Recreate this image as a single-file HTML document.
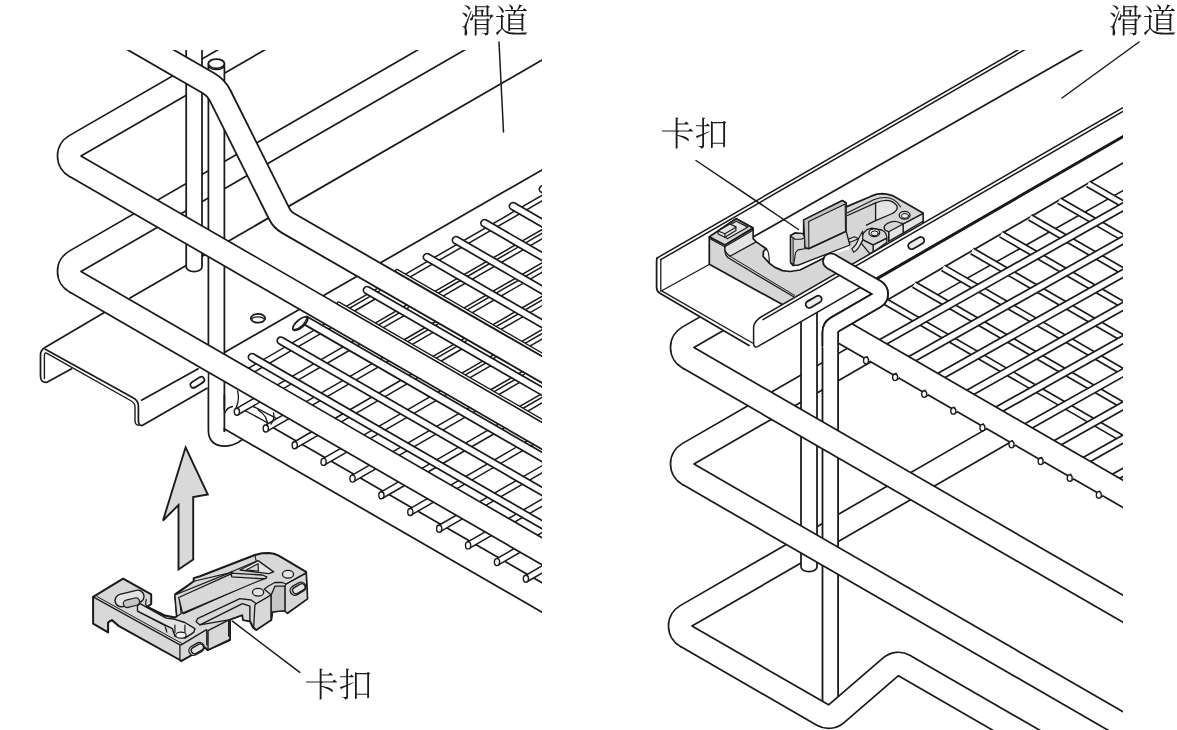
<!DOCTYPE html>
<html><head><meta charset="utf-8"><style>
html,body{margin:0;padding:0;background:#fff;}
body{width:1177px;height:730px;overflow:hidden;}
svg{display:block;}
.l{stroke:#1a1a1a;stroke-linecap:round;stroke-linejoin:round;}

text{font-family:"Liberation Serif","Noto Serif CJK SC",serif;font-size:34px;fill:#1a1a1a;font-weight:300;text-rendering:geometricPrecision;}
</style></head><body>
<svg width="1177" height="730" viewBox="0 0 1177 730">
<defs><clipPath id="cl"><rect x="0" y="50" width="542" height="680"/></clipPath>
<clipPath id="cr"><rect x="600" y="50" width="523" height="680"/></clipPath></defs>
<g clip-path="url(#cl)">
<path d="M560 49.6L130 298" class="l" fill="none" stroke-width="1.75" />
<path d="M560 159.6L224.4 352.5" class="l" fill="none" stroke-width="1.75" />
<ellipse cx="258" cy="318.3" rx="7.2" ry="4.4" class="l" stroke-width="1.75" fill="#fff"/>
<path d="M251.5 319.8A6.6 3.6 0 0 1 264.5 319.8" class="l" stroke-width="1.2" fill="none" />
<path d="M490.8 21.3L75.1 261.3A11.8 11.8 0 0 0 75.1 281.7L76.9 282.7" fill="none" stroke="#1a1a1a" stroke-width="25.2" stroke-linecap="butt" stroke-linejoin="round"/>
<path d="M490.8 21.3L75.1 261.3A11.8 11.8 0 0 0 75.1 281.7L76.9 282.7" fill="none" stroke="#fff" stroke-width="21.8" stroke-linecap="butt" stroke-linejoin="round"/>
<path d="M300.3 15.8L75.1 145.8A11.8 11.8 0 0 0 75.1 166.2L76.9 167.2" fill="none" stroke="#1a1a1a" stroke-width="25.2" stroke-linecap="butt" stroke-linejoin="round"/>
<path d="M300.3 15.8L75.1 145.8A11.8 11.8 0 0 0 75.1 166.2L76.9 167.2" fill="none" stroke="#fff" stroke-width="21.8" stroke-linecap="butt" stroke-linejoin="round"/>
<path d="M405.5 274.1L578.7 174.1" class="l" fill="none" stroke-width="1.5" />
<path d="M405.5 279.7L578.7 179.7" class="l" fill="none" stroke-width="1.5" />
<path d="M434.4 291.7L607.6 191.7" class="l" fill="none" stroke-width="1.5" />
<path d="M434.4 295.5L607.6 195.5" class="l" fill="none" stroke-width="1.5" />
<path d="M434.4 301.1L607.6 201.1" class="l" fill="none" stroke-width="1.5" />
<path d="M463.3 308.4L636.5 208.4" class="l" fill="none" stroke-width="1.5" />
<path d="M463.3 312.2L636.5 212.2" class="l" fill="none" stroke-width="1.5" />
<path d="M463.3 317.8L636.5 217.8" class="l" fill="none" stroke-width="1.5" />
<path d="M492.2 325.1L665.4 225.1" class="l" fill="none" stroke-width="1.5" />
<path d="M492.2 328.9L665.4 228.9" class="l" fill="none" stroke-width="1.5" />
<path d="M492.2 334.5L665.4 234.5" class="l" fill="none" stroke-width="1.5" />
<path d="M521.1 341.8L694.3 241.8" class="l" fill="none" stroke-width="1.5" />
<path d="M521.1 345.6L694.3 245.6" class="l" fill="none" stroke-width="1.5" />
<path d="M521.1 351.2L694.3 251.2" class="l" fill="none" stroke-width="1.5" />
<path d="M550 358.4L723.2 258.4" class="l" fill="none" stroke-width="1.5" />
<path d="M550 362.2L723.2 262.2" class="l" fill="none" stroke-width="1.5" />
<path d="M550 367.8L723.2 267.8" class="l" fill="none" stroke-width="1.5" />
<path d="M427 257.2L600.2 357.2" fill="none" stroke="#1a1a1a" stroke-width="8.9" stroke-linecap="round" stroke-linejoin="round"/>
<path d="M427 257.2L600.2 357.2" fill="none" stroke="#fff" stroke-width="5.5" stroke-linecap="round" stroke-linejoin="round"/>
<path d="M456 240.2L629.2 340.2" fill="none" stroke="#1a1a1a" stroke-width="8.9" stroke-linecap="round" stroke-linejoin="round"/>
<path d="M456 240.2L629.2 340.2" fill="none" stroke="#fff" stroke-width="5.5" stroke-linecap="round" stroke-linejoin="round"/>
<path d="M484.5 223.2L657.7 323.2" fill="none" stroke="#1a1a1a" stroke-width="8.9" stroke-linecap="round" stroke-linejoin="round"/>
<path d="M484.5 223.2L657.7 323.2" fill="none" stroke="#fff" stroke-width="5.5" stroke-linecap="round" stroke-linejoin="round"/>
<path d="M513 206.2L686.2 306.2" fill="none" stroke="#1a1a1a" stroke-width="8.9" stroke-linecap="round" stroke-linejoin="round"/>
<path d="M513 206.2L686.2 306.2" fill="none" stroke="#fff" stroke-width="5.5" stroke-linecap="round" stroke-linejoin="round"/>
<path d="M543 189.2L716.2 289.2" fill="none" stroke="#1a1a1a" stroke-width="8.9" stroke-linecap="round" stroke-linejoin="round"/>
<path d="M543 189.2L716.2 289.2" fill="none" stroke="#fff" stroke-width="5.5" stroke-linecap="round" stroke-linejoin="round"/>
<path d="M186.2 40V267A7.9 4.5 0 0 0 202 267V40" fill="#fff" class="l" stroke-width="1.75"/>
<path d="M208.4 63.7V430C208.4 440 214 446 225 446.2C232 446 238 443 242.5 439.4L225 429.3H224.4V63.7Z" fill="#fff" stroke="none"/>
<path d="M208.4 63.7V430C208.4 440 214 446 225 446.2C232 446 238 443 242.5 439.4M224.4 431V63.7" fill="none" class="l" stroke-width="1.75"/>
<ellipse cx="216.4" cy="63.7" rx="8" ry="4.7" fill="#fff" class="l" stroke-width="1.75"/>
<path d="M208.6 66A8 4.7 0 0 0 224.2 66" class="l" stroke-width="1.3" fill="none" />
<path d="M345 307.1L379.6 287.1" class="l" fill="none" stroke-width="1.5" />
<path d="M345 310.9L379.6 290.9" class="l" fill="none" stroke-width="1.5" />
<path d="M345 316.5L379.6 296.5" class="l" fill="none" stroke-width="1.5" />
<path d="M373.9 323.8L408.5 303.8" class="l" fill="none" stroke-width="1.5" />
<path d="M373.9 327.6L408.5 307.6" class="l" fill="none" stroke-width="1.5" />
<path d="M373.9 333.2L408.5 313.2" class="l" fill="none" stroke-width="1.5" />
<path d="M402.8 340.5L437.4 320.5" class="l" fill="none" stroke-width="1.5" />
<path d="M402.8 344.3L437.4 324.3" class="l" fill="none" stroke-width="1.5" />
<path d="M402.8 349.9L437.4 329.9" class="l" fill="none" stroke-width="1.5" />
<path d="M431.7 357.1L466.3 337.1" class="l" fill="none" stroke-width="1.5" />
<path d="M431.7 360.9L466.3 340.9" class="l" fill="none" stroke-width="1.5" />
<path d="M431.7 366.5L466.3 346.5" class="l" fill="none" stroke-width="1.5" />
<path d="M460.6 373.8L495.2 353.8" class="l" fill="none" stroke-width="1.5" />
<path d="M460.6 377.6L495.2 357.6" class="l" fill="none" stroke-width="1.5" />
<path d="M460.6 383.2L495.2 363.2" class="l" fill="none" stroke-width="1.5" />
<path d="M489.5 390.5L524.1 370.5" class="l" fill="none" stroke-width="1.5" />
<path d="M489.5 394.3L524.1 374.3" class="l" fill="none" stroke-width="1.5" />
<path d="M489.5 399.9L524.1 379.9" class="l" fill="none" stroke-width="1.5" />
<path d="M518.4 407.2L553 387.2" class="l" fill="none" stroke-width="1.5" />
<path d="M518.4 411L553 391" class="l" fill="none" stroke-width="1.5" />
<path d="M518.4 416.6L553 396.6" class="l" fill="none" stroke-width="1.5" />
<path d="M547.3 423.8L581.9 403.8" class="l" fill="none" stroke-width="1.5" />
<path d="M547.3 427.6L581.9 407.6" class="l" fill="none" stroke-width="1.5" />
<path d="M547.3 433.2L581.9 413.2" class="l" fill="none" stroke-width="1.5" />
<path d="M367 290.2L566.2 405.2" fill="none" stroke="#1a1a1a" stroke-width="8.9" stroke-linecap="round" stroke-linejoin="round"/>
<path d="M367 290.2L566.2 405.2" fill="none" stroke="#fff" stroke-width="5.5" stroke-linecap="round" stroke-linejoin="round"/>
<path d="M100 20.6L208.6 83.2A29 29 0 0 1 220.1 95.4L279.4 214.1A21 21 0 0 0 287.7 222.9L580 391.5" fill="none" stroke="#1a1a1a" stroke-width="24.8" stroke-linecap="butt" stroke-linejoin="round"/>
<path d="M100 20.6L208.6 83.2A29 29 0 0 1 220.1 95.4L279.4 214.1A21 21 0 0 0 287.7 222.9L580 391.5" fill="none" stroke="#fff" stroke-width="21.2" stroke-linecap="butt" stroke-linejoin="round"/>
<path d="M397 270.7L570.2 370.7" fill="none" stroke="#1a1a1a" stroke-width="3.9" stroke-linecap="round" stroke-linejoin="round"/>
<path d="M397 270.7L570.2 370.7" fill="none" stroke="#fff" stroke-width="1.3" stroke-linecap="round" stroke-linejoin="round"/>
<path d="M222 412.8L585.7 622.8" stroke="#fff" stroke-width="24" fill="none"/>
<path d="M225 429.3L560 622.6" class="l" fill="none" stroke-width="1.75" />
<path d="M272 427L560 593.2" class="l" fill="none" stroke-width="1.75" />
<path d="M244 410L268 423" class="l" fill="none" stroke-width="1.4" />
<path d="M252 405.8L276 418.2" class="l" fill="none" stroke-width="1.4" />
<path d="M232 381.3L329.2 325.1" fill="none" stroke="#1a1a1a" stroke-width="7.7" stroke-linecap="butt" stroke-linejoin="round"/>
<path d="M232 381.3L329.2 325.1" fill="none" stroke="#fff" stroke-width="4.7" stroke-linecap="butt" stroke-linejoin="round"/>
<path d="M236.9 411.8L358.1 341.8" fill="none" stroke="#1a1a1a" stroke-width="7.7" stroke-linecap="butt" stroke-linejoin="round"/>
<path d="M236.9 411.8L358.1 341.8" fill="none" stroke="#fff" stroke-width="4.7" stroke-linecap="butt" stroke-linejoin="round"/>
<ellipse cx="236.9" cy="411.8" rx="2.6" ry="3.5" fill="#fff" class="l" stroke-width="1.4"/>
<path d="M265.8 428.5L387 358.5" fill="none" stroke="#1a1a1a" stroke-width="7.7" stroke-linecap="butt" stroke-linejoin="round"/>
<path d="M265.8 428.5L387 358.5" fill="none" stroke="#fff" stroke-width="4.7" stroke-linecap="butt" stroke-linejoin="round"/>
<ellipse cx="265.8" cy="428.5" rx="2.6" ry="3.5" fill="#fff" class="l" stroke-width="1.4"/>
<path d="M294.7 445.2L415.9 375.2" fill="none" stroke="#1a1a1a" stroke-width="7.7" stroke-linecap="butt" stroke-linejoin="round"/>
<path d="M294.7 445.2L415.9 375.2" fill="none" stroke="#fff" stroke-width="4.7" stroke-linecap="butt" stroke-linejoin="round"/>
<ellipse cx="294.7" cy="445.2" rx="2.6" ry="3.5" fill="#fff" class="l" stroke-width="1.4"/>
<path d="M323.6 461.9L444.8 391.9" fill="none" stroke="#1a1a1a" stroke-width="7.7" stroke-linecap="butt" stroke-linejoin="round"/>
<path d="M323.6 461.9L444.8 391.9" fill="none" stroke="#fff" stroke-width="4.7" stroke-linecap="butt" stroke-linejoin="round"/>
<ellipse cx="323.6" cy="461.9" rx="2.6" ry="3.5" fill="#fff" class="l" stroke-width="1.4"/>
<path d="M352.5 478.6L473.7 408.6" fill="none" stroke="#1a1a1a" stroke-width="7.7" stroke-linecap="butt" stroke-linejoin="round"/>
<path d="M352.5 478.6L473.7 408.6" fill="none" stroke="#fff" stroke-width="4.7" stroke-linecap="butt" stroke-linejoin="round"/>
<ellipse cx="352.5" cy="478.6" rx="2.6" ry="3.5" fill="#fff" class="l" stroke-width="1.4"/>
<path d="M381.4 495.3L502.6 425.3" fill="none" stroke="#1a1a1a" stroke-width="7.7" stroke-linecap="butt" stroke-linejoin="round"/>
<path d="M381.4 495.3L502.6 425.3" fill="none" stroke="#fff" stroke-width="4.7" stroke-linecap="butt" stroke-linejoin="round"/>
<ellipse cx="381.4" cy="495.3" rx="2.6" ry="3.5" fill="#fff" class="l" stroke-width="1.4"/>
<path d="M410.3 512L531.5 442" fill="none" stroke="#1a1a1a" stroke-width="7.7" stroke-linecap="butt" stroke-linejoin="round"/>
<path d="M410.3 512L531.5 442" fill="none" stroke="#fff" stroke-width="4.7" stroke-linecap="butt" stroke-linejoin="round"/>
<ellipse cx="410.3" cy="512" rx="2.6" ry="3.5" fill="#fff" class="l" stroke-width="1.4"/>
<path d="M439.2 528.7L560.4 458.7" fill="none" stroke="#1a1a1a" stroke-width="7.7" stroke-linecap="butt" stroke-linejoin="round"/>
<path d="M439.2 528.7L560.4 458.7" fill="none" stroke="#fff" stroke-width="4.7" stroke-linecap="butt" stroke-linejoin="round"/>
<ellipse cx="439.2" cy="528.7" rx="2.6" ry="3.5" fill="#fff" class="l" stroke-width="1.4"/>
<path d="M468.1 545.4L589.3 475.4" fill="none" stroke="#1a1a1a" stroke-width="7.7" stroke-linecap="butt" stroke-linejoin="round"/>
<path d="M468.1 545.4L589.3 475.4" fill="none" stroke="#fff" stroke-width="4.7" stroke-linecap="butt" stroke-linejoin="round"/>
<ellipse cx="468.1" cy="545.4" rx="2.6" ry="3.5" fill="#fff" class="l" stroke-width="1.4"/>
<path d="M497 562.1L618.2 492.1" fill="none" stroke="#1a1a1a" stroke-width="7.7" stroke-linecap="butt" stroke-linejoin="round"/>
<path d="M497 562.1L618.2 492.1" fill="none" stroke="#fff" stroke-width="4.7" stroke-linecap="butt" stroke-linejoin="round"/>
<ellipse cx="497" cy="562.1" rx="2.6" ry="3.5" fill="#fff" class="l" stroke-width="1.4"/>
<path d="M525.9 578.8L647.1 508.8" fill="none" stroke="#1a1a1a" stroke-width="7.7" stroke-linecap="butt" stroke-linejoin="round"/>
<path d="M525.9 578.8L647.1 508.8" fill="none" stroke="#fff" stroke-width="4.7" stroke-linecap="butt" stroke-linejoin="round"/>
<ellipse cx="525.9" cy="578.8" rx="2.6" ry="3.5" fill="#fff" class="l" stroke-width="1.4"/>
<path d="M554.8 595.5L676 525.5" fill="none" stroke="#1a1a1a" stroke-width="7.7" stroke-linecap="butt" stroke-linejoin="round"/>
<path d="M554.8 595.5L676 525.5" fill="none" stroke="#fff" stroke-width="4.7" stroke-linecap="butt" stroke-linejoin="round"/>
<ellipse cx="554.8" cy="595.5" rx="2.6" ry="3.5" fill="#fff" class="l" stroke-width="1.4"/>
<path d="M224.4 395L224.4 431" class="l" fill="none" stroke-width="1.75" />
<path d="M224.4 414Q226 408 232.5 406.5" class="l" stroke-width="1.3" fill="none" />
<path d="M237.5 391Q240 399 236 408" class="l" stroke-width="1.3" fill="none" />
<path d="M258 410Q268 416 267.5 426" class="l" stroke-width="1.3" fill="none" />
<path d="M273.5 413Q275 419 271 424" class="l" stroke-width="1.3" fill="none" />
<path d="M252 357.2L563.8 537.2" fill="none" stroke="#1a1a1a" stroke-width="8.9" stroke-linecap="round" stroke-linejoin="round"/>
<path d="M252 357.2L563.8 537.2" fill="none" stroke="#fff" stroke-width="5.5" stroke-linecap="round" stroke-linejoin="round"/>
<path d="M280.8 340.6L592.6 520.6" fill="none" stroke="#1a1a1a" stroke-width="8.9" stroke-linecap="round" stroke-linejoin="round"/>
<path d="M280.8 340.6L592.6 520.6" fill="none" stroke="#fff" stroke-width="5.5" stroke-linecap="round" stroke-linejoin="round"/>
<path d="M304 319.6L563.8 469.6" fill="none" stroke="#1a1a1a" stroke-width="9.9" stroke-linecap="butt" stroke-linejoin="round"/>
<path d="M304 319.6L563.8 469.6" fill="none" stroke="#fff" stroke-width="6.4" stroke-linecap="butt" stroke-linejoin="round"/>
<ellipse cx="300.3" cy="323.6" rx="9.4" ry="3.8" transform="rotate(-41 300.3 323.6)" fill="#fff" class="l" stroke-width="1.75"/>
<path d="M294 329.6Q303.5 327.5 306.6 318.6" class="l" stroke-width="1.3" fill="none" />
<path d="M103.9 312.7L41 349L40.5 378L46.5 382.4L71.6 368.8L60 361L132 400L138.4 406V424L142.2 425.5L207.5 388V352Z" fill="#fff"/>
<path d="M103.9 312.7L45 347.4Q40.5 350 40.5 354.5V376Q40.5 382.8 46.5 382.4L71.6 368.8" class="l" stroke-width="1.75" fill="none" />
<path d="M45.3 349.3L132.6 397.5Q138.4 400.5 138.4 406V421Q138.6 425.8 142.2 425.5L207 388.2" class="l" stroke-width="1.75" fill="none" />
<path d="M44.4 378.5V355.5Q44.4 352 47 353.3L130.5 400.5Q135 403 135 406.7V421Q135 424.5 138.5 425.3" class="l" stroke-width="1.4" fill="none" />
<path d="M141.5 400.2L198.2 368.8" class="l" fill="none" stroke-width="1.75" />
<path d="M193.5 384.9L201.3 379.9" fill="none" stroke="#1a1a1a" stroke-width="7.8" stroke-linecap="round" stroke-linejoin="round"/>
<path d="M193.5 384.9L201.3 379.9" fill="none" stroke="#fff" stroke-width="4.6" stroke-linecap="round" stroke-linejoin="round"/>
<path d="M191.5 387.6Q198 387 203.5 381" class="l" stroke-width="1.1" fill="none" />
<path d="M75.1 166.2L560.1 446.2" fill="none" stroke="#1a1a1a" stroke-width="25.2" stroke-linecap="butt" stroke-linejoin="round"/>
<path d="M73.8 165.4L560.1 446.2" fill="none" stroke="#fff" stroke-width="21.8" stroke-linecap="butt" stroke-linejoin="round"/>
<path d="M338.6 303.3L563.8 433.3" fill="none" stroke="#1a1a1a" stroke-width="3.9" stroke-linecap="round" stroke-linejoin="round"/>
<path d="M338.6 303.3L563.8 433.3" fill="none" stroke="#fff" stroke-width="1.3" stroke-linecap="round" stroke-linejoin="round"/>
<path d="M75.1 281.7L560.1 561.7" fill="none" stroke="#1a1a1a" stroke-width="25.2" stroke-linecap="butt" stroke-linejoin="round"/>
<path d="M73.8 280.9L560.1 561.7" fill="none" stroke="#fff" stroke-width="21.8" stroke-linecap="butt" stroke-linejoin="round"/>
</g>
<path d="M185.6 447.3L207.8 494.5L193.2 497V559.5L178.5 569.5V505L163 520.5Z" fill="#d9d9d9" class="l" stroke-width="1.9" style="stroke-linejoin:miter"/>
<path d="M93.1 596.9L123.1 578.7L151.2 594.4L151.2 604L147.4 606.8L165 615.6L175 617.5L176.8 616.2L175 595L193.7 581.2L193.7 578.1L200 576.2L254.9 555L262 553.3L268.7 553.1L274 553.8L278.7 555.6L306.1 571.9L307.4 598.7L287.4 613.1L284.9 610.6L272.4 611.8L271.2 620L256.2 630L253 627.5L250 621.2L243 620L242.4 615L230 619.5L230 640L207.5 650L205 647.5L181.2 661.2L179.9 660L118.1 625.6L111.9 620L108.1 622.5L108.1 632.4L93.1 623.7Z" fill="#d8d8d8" class="l" stroke-width="2.0"/>
<path d="M93.1 596.9L179.9 644.9L181.2 644.9L206.1 629.9" fill="none" class="l" stroke-width="1.3"/>
<path d="M96.9 596.5L181.8 643.4" fill="none" class="l" stroke-width="1.0"/>
<path d="M179.9 645.6L179.9 659.9" class="l" fill="none" stroke-width="1.3" />
<path d="M121.3 600.5L137.8 596.4" stroke="#1a1a1a" stroke-width="13.9" stroke-linecap="round" fill="none"/>
<path d="M121.3 600.5L137.8 596.4" stroke="#e3e3e3" stroke-width="11.1" stroke-linecap="round" fill="none"/>
<path d="M127.1 603.8L135.8 601.6" stroke="#1a1a1a" stroke-width="8.7" stroke-linecap="round" fill="none"/>
<path d="M127.1 603.8L135.8 601.6" stroke="#c6c6c6" stroke-width="6.3" stroke-linecap="round" fill="none"/>
<path d="M137.5 605.6L140 603.7L166.2 618.1L174.9 619.3L184.9 622.5L194.9 628.7L193.7 632.4L184.9 638.1L174.9 636.2L172.4 628.7L164.9 625L137.5 611.2Z" fill="#e3e3e3" class="l" stroke-width="1.4"/>
<path d="M137.5 611.2L164.9 625.6L166.8 632.4L166.2 628.7" fill="none" class="l" stroke-width="1.0"/>
<ellipse cx="180.9" cy="635.2" rx="5.2" ry="3" fill="#fff" class="l" stroke-width="1.2"/>
<path d="M174.9 625L174.9 632.4" class="l" fill="none" stroke-width="1.2" />
<path d="M184.9 625L184.9 632.4" class="l" fill="none" stroke-width="1.2" />
<path d="M146.2 599.3L145.6 604.3L147.4 606.8L164.9 615.6L174.9 617.5" fill="none" class="l" stroke-width="1.2"/>
<path d="M108.1 632.4L108.1 623.1L110 620.6L113.1 621.2L118.1 625.2" fill="none" class="l" stroke-width="1.3"/>
<path d="M193.6 650.6L199.5 647.2" stroke="#1a1a1a" stroke-width="10.8" stroke-linecap="round" fill="none"/>
<path d="M193.6 650.6L199.5 647.2" stroke="#c6c6c6" stroke-width="8.2" stroke-linecap="round" fill="none"/>
<path d="M194.6 650.5L200.2 647.3" stroke="#1a1a1a" stroke-width="7.8" stroke-linecap="round" fill="none"/>
<path d="M194.6 650.5L200.2 647.3" stroke="#e3e3e3" stroke-width="5.2" stroke-linecap="round" fill="none"/>
<path d="M208 630.6L229.9 619.3L229.9 639.3L208 649.9Z" fill="#d8d8d8" class="l" stroke-width="1.4"/>
<path d="M206.8 629.9L206.8 644.9" class="l" fill="none" stroke-width="1.4" />
<path d="M174.9 595L232 571.9L232 580L179.9 601.2L181.2 613.7L176.8 616.2Z" fill="#d8d8d8" class="l" stroke-width="1.3"/>
<path d="M180.5 601.8L232 580.6L232 591.9L183.7 613.7Z" fill="#d8d8d8" class="l" stroke-width="1.3"/>
<path d="M175 593.7L193.7 581.2L228.7 573.1L256.2 561.2L254.9 555" fill="none" class="l" stroke-width="1.1"/>
<path d="M178.7 597.5L230 574.3L262.4 576.2L266.2 578.1L254.9 582.5L182.5 613.1Z" fill="#d8d8d8" class="l" stroke-width="1.3"/>
<path d="M231.2 573.1L262.4 575L266.8 576.8L265.5 578.7L261.2 578.7L231.8 576.8Z" fill="#d8d8d8" class="l" stroke-width="1.3"/>
<path d="M239.9 570L258.1 560.6L273.7 571.9L268.7 573.7Z" fill="#e3e3e3" class="l" stroke-width="1.3"/>
<path d="M246.2 570L258.1 563.7L258.4 571.2Z" fill="#d8d8d8" class="l" stroke-width="1.2"/>
<ellipse cx="288" cy="574.3" rx="5.6" ry="3.9" fill="#e3e3e3" class="l" stroke-width="1.3"/>
<ellipse cx="258.1" cy="592.2" rx="5.6" ry="3.9" fill="#e3e3e3" class="l" stroke-width="1.3"/>
<path d="M286.2 584L306.1 573.1L307.4 598.7L287.4 613.1L284.9 610.6L284.9 586.2Z" fill="#d8d8d8" class="l" stroke-width="1.3"/>
<path d="M294.9 590.5L301.1 586.9" stroke="#1a1a1a" stroke-width="10.8" stroke-linecap="round" fill="none"/>
<path d="M294.9 590.5L301.1 586.9" stroke="#c6c6c6" stroke-width="8.2" stroke-linecap="round" fill="none"/>
<path d="M295.9 590.4L301.8 587" stroke="#1a1a1a" stroke-width="7.8" stroke-linecap="round" fill="none"/>
<path d="M295.9 590.4L301.8 587" stroke="#e3e3e3" stroke-width="5.2" stroke-linecap="round" fill="none"/>
<path d="M306.1 572.7L286.2 584L282.4 582.5L274.9 582.5L268 586.2L264.3 589.3L267.4 591.8L271.2 595L256.2 603.7L251.2 600L239.9 598.7L197.5 618.7L196.2 621.8L200 624.9" fill="none" class="l" stroke-width="1.3"/>
<path d="M256.2 603.7L271.2 595L271.2 619.9L256.2 629.9L253.7 626.8L254.9 604.9Z" fill="#d8d8d8" class="l" stroke-width="1.3"/>
<path d="M271.2 595L274.9 586.2L284.9 586.2L284.9 610.6L272.4 611.8L271.2 619.9Z" fill="#c6c6c6" class="l" stroke-width="1.3"/>
<path d="M200 624.9L242.4 603.7L249.9 606.2L249.9 621.2L243.1 619.9L242.4 614.9L228.7 619.9Z" fill="#d8d8d8" class="l" stroke-width="1.4"/>
<path d="M228.7 619.9L228.7 636" class="l" fill="none" stroke-width="1.4" />
<path d="M232.4 621.2L299.8 672.4" class="l" fill="none" stroke-width="1.5" />
<g clip-path="url(#cr)">
<path d="M1008.3 429.8L686.1 615.8A11.8 11.8 0 0 0 686.1 636.2L687.9 637.2" fill="none" stroke="#1a1a1a" stroke-width="25.2" stroke-linecap="butt" stroke-linejoin="round"/>
<path d="M1008.3 429.8L686.1 615.8A11.8 11.8 0 0 0 686.1 636.2L687.9 637.2" fill="none" stroke="#fff" stroke-width="21.8" stroke-linecap="butt" stroke-linejoin="round"/>
<path d="M865.7 351.3L688.1 453.8A11.8 11.8 0 0 0 688.1 474.2L689.9 475.2" fill="none" stroke="#1a1a1a" stroke-width="25.2" stroke-linecap="butt" stroke-linejoin="round"/>
<path d="M865.7 351.3L688.1 453.8A11.8 11.8 0 0 0 688.1 474.2L689.9 475.2" fill="none" stroke="#fff" stroke-width="21.8" stroke-linecap="butt" stroke-linejoin="round"/>
<path d="M783.4 282.3L688.1 337.3A11.8 11.8 0 0 0 688.1 357.7L689.9 358.7" fill="none" stroke="#1a1a1a" stroke-width="25.2" stroke-linecap="butt" stroke-linejoin="round"/>
<path d="M783.4 282.3L688.1 337.3A11.8 11.8 0 0 0 688.1 357.7L689.9 358.7" fill="none" stroke="#fff" stroke-width="21.8" stroke-linecap="butt" stroke-linejoin="round"/>
<path d="M1140 153.2L886 300.7" class="l" fill="none" stroke-width="1.75" />
<path d="M1140 181L938 294.6" class="l" fill="none" stroke-width="1.6" />
<path d="M885 301.4L1144.8 451.4" fill="none" stroke="#1a1a1a" stroke-width="7.9" stroke-linecap="butt" stroke-linejoin="round"/>
<path d="M885 301.4L1144.8 451.4" fill="none" stroke="#fff" stroke-width="4.5" stroke-linecap="butt" stroke-linejoin="round"/>
<path d="M914 284.6L1173.8 434.6" fill="none" stroke="#1a1a1a" stroke-width="7.9" stroke-linecap="butt" stroke-linejoin="round"/>
<path d="M914 284.6L1173.8 434.6" fill="none" stroke="#fff" stroke-width="4.5" stroke-linecap="butt" stroke-linejoin="round"/>
<path d="M943 267.8L1202.8 417.8" fill="none" stroke="#1a1a1a" stroke-width="7.9" stroke-linecap="butt" stroke-linejoin="round"/>
<path d="M943 267.8L1202.8 417.8" fill="none" stroke="#fff" stroke-width="4.5" stroke-linecap="butt" stroke-linejoin="round"/>
<path d="M972 251L1231.8 401" fill="none" stroke="#1a1a1a" stroke-width="7.9" stroke-linecap="butt" stroke-linejoin="round"/>
<path d="M972 251L1231.8 401" fill="none" stroke="#fff" stroke-width="4.5" stroke-linecap="butt" stroke-linejoin="round"/>
<path d="M1001 234.2L1260.8 384.2" fill="none" stroke="#1a1a1a" stroke-width="7.9" stroke-linecap="butt" stroke-linejoin="round"/>
<path d="M1001 234.2L1260.8 384.2" fill="none" stroke="#fff" stroke-width="4.5" stroke-linecap="butt" stroke-linejoin="round"/>
<path d="M1030 217.4L1289.8 367.4" fill="none" stroke="#1a1a1a" stroke-width="7.9" stroke-linecap="butt" stroke-linejoin="round"/>
<path d="M1030 217.4L1289.8 367.4" fill="none" stroke="#fff" stroke-width="4.5" stroke-linecap="butt" stroke-linejoin="round"/>
<path d="M1059 200.6L1318.8 350.6" fill="none" stroke="#1a1a1a" stroke-width="7.9" stroke-linecap="butt" stroke-linejoin="round"/>
<path d="M1059 200.6L1318.8 350.6" fill="none" stroke="#fff" stroke-width="4.5" stroke-linecap="butt" stroke-linejoin="round"/>
<path d="M1088 183.8L1347.8 333.8" fill="none" stroke="#1a1a1a" stroke-width="7.9" stroke-linecap="butt" stroke-linejoin="round"/>
<path d="M1088 183.8L1347.8 333.8" fill="none" stroke="#fff" stroke-width="4.5" stroke-linecap="butt" stroke-linejoin="round"/>
<path d="M874 347L1174 178.2" fill="none" stroke="#1a1a1a" stroke-width="8.9" stroke-linecap="butt" stroke-linejoin="round"/>
<path d="M874 347L1174 178.2" fill="none" stroke="#fff" stroke-width="5.5" stroke-linecap="butt" stroke-linejoin="round"/>
<path d="M903.1 363.8L1203.1 195.1" fill="none" stroke="#1a1a1a" stroke-width="8.9" stroke-linecap="butt" stroke-linejoin="round"/>
<path d="M903.1 363.8L1203.1 195.1" fill="none" stroke="#fff" stroke-width="5.5" stroke-linecap="butt" stroke-linejoin="round"/>
<path d="M932.2 380.6L1232.2 211.9" fill="none" stroke="#1a1a1a" stroke-width="8.9" stroke-linecap="butt" stroke-linejoin="round"/>
<path d="M932.2 380.6L1232.2 211.9" fill="none" stroke="#fff" stroke-width="5.5" stroke-linecap="butt" stroke-linejoin="round"/>
<path d="M961.3 397.4L1261.3 228.6" fill="none" stroke="#1a1a1a" stroke-width="8.9" stroke-linecap="butt" stroke-linejoin="round"/>
<path d="M961.3 397.4L1261.3 228.6" fill="none" stroke="#fff" stroke-width="5.5" stroke-linecap="butt" stroke-linejoin="round"/>
<path d="M990.4 414.2L1290.4 245.4" fill="none" stroke="#1a1a1a" stroke-width="8.9" stroke-linecap="butt" stroke-linejoin="round"/>
<path d="M990.4 414.2L1290.4 245.4" fill="none" stroke="#fff" stroke-width="5.5" stroke-linecap="butt" stroke-linejoin="round"/>
<path d="M1019.5 431L1319.5 262.2" fill="none" stroke="#1a1a1a" stroke-width="8.9" stroke-linecap="butt" stroke-linejoin="round"/>
<path d="M1019.5 431L1319.5 262.2" fill="none" stroke="#fff" stroke-width="5.5" stroke-linecap="butt" stroke-linejoin="round"/>
<path d="M1048.6 447.8L1348.6 279.1" fill="none" stroke="#1a1a1a" stroke-width="8.9" stroke-linecap="butt" stroke-linejoin="round"/>
<path d="M1048.6 447.8L1348.6 279.1" fill="none" stroke="#fff" stroke-width="5.5" stroke-linecap="butt" stroke-linejoin="round"/>
<path d="M1077.7 464.6L1377.7 295.9" fill="none" stroke="#1a1a1a" stroke-width="8.9" stroke-linecap="butt" stroke-linejoin="round"/>
<path d="M1077.7 464.6L1377.7 295.9" fill="none" stroke="#fff" stroke-width="5.5" stroke-linecap="butt" stroke-linejoin="round"/>
<path d="M1106.8 481.4L1406.8 312.6" fill="none" stroke="#1a1a1a" stroke-width="8.9" stroke-linecap="butt" stroke-linejoin="round"/>
<path d="M1106.8 481.4L1406.8 312.6" fill="none" stroke="#fff" stroke-width="5.5" stroke-linecap="butt" stroke-linejoin="round"/>
<path d="M834 327L1180.4 527" fill="none" stroke="#1a1a1a" stroke-width="25.2" stroke-linecap="butt" stroke-linejoin="round"/>
<path d="M834 327L1180.4 527" fill="none" stroke="#fff" stroke-width="21.8" stroke-linecap="butt" stroke-linejoin="round"/>
<path d="M866 360.5L868.9 358.8" fill="none" stroke="#1a1a1a" stroke-width="7.1" stroke-linecap="butt" stroke-linejoin="round"/>
<path d="M866 360.5L868.9 358.8" fill="none" stroke="#fff" stroke-width="4.5" stroke-linecap="butt" stroke-linejoin="round"/>
<ellipse cx="866" cy="360.5" rx="2.5" ry="3.3" fill="#fff" class="l" stroke-width="1.3"/>
<path d="M895.1 377.3L898 375.6" fill="none" stroke="#1a1a1a" stroke-width="7.1" stroke-linecap="butt" stroke-linejoin="round"/>
<path d="M895.1 377.3L898 375.6" fill="none" stroke="#fff" stroke-width="4.5" stroke-linecap="butt" stroke-linejoin="round"/>
<ellipse cx="895.1" cy="377.3" rx="2.5" ry="3.3" fill="#fff" class="l" stroke-width="1.3"/>
<path d="M924.2 394.1L927.1 392.4" fill="none" stroke="#1a1a1a" stroke-width="7.1" stroke-linecap="butt" stroke-linejoin="round"/>
<path d="M924.2 394.1L927.1 392.4" fill="none" stroke="#fff" stroke-width="4.5" stroke-linecap="butt" stroke-linejoin="round"/>
<ellipse cx="924.2" cy="394.1" rx="2.5" ry="3.3" fill="#fff" class="l" stroke-width="1.3"/>
<path d="M953.3 410.9L956.2 409.2" fill="none" stroke="#1a1a1a" stroke-width="7.1" stroke-linecap="butt" stroke-linejoin="round"/>
<path d="M953.3 410.9L956.2 409.2" fill="none" stroke="#fff" stroke-width="4.5" stroke-linecap="butt" stroke-linejoin="round"/>
<ellipse cx="953.3" cy="410.9" rx="2.5" ry="3.3" fill="#fff" class="l" stroke-width="1.3"/>
<path d="M982.4 427.7L985.3 426" fill="none" stroke="#1a1a1a" stroke-width="7.1" stroke-linecap="butt" stroke-linejoin="round"/>
<path d="M982.4 427.7L985.3 426" fill="none" stroke="#fff" stroke-width="4.5" stroke-linecap="butt" stroke-linejoin="round"/>
<ellipse cx="982.4" cy="427.7" rx="2.5" ry="3.3" fill="#fff" class="l" stroke-width="1.3"/>
<path d="M1011.5 444.5L1014.4 442.8" fill="none" stroke="#1a1a1a" stroke-width="7.1" stroke-linecap="butt" stroke-linejoin="round"/>
<path d="M1011.5 444.5L1014.4 442.8" fill="none" stroke="#fff" stroke-width="4.5" stroke-linecap="butt" stroke-linejoin="round"/>
<ellipse cx="1011.5" cy="444.5" rx="2.5" ry="3.3" fill="#fff" class="l" stroke-width="1.3"/>
<path d="M1040.6 461.3L1043.5 459.6" fill="none" stroke="#1a1a1a" stroke-width="7.1" stroke-linecap="butt" stroke-linejoin="round"/>
<path d="M1040.6 461.3L1043.5 459.6" fill="none" stroke="#fff" stroke-width="4.5" stroke-linecap="butt" stroke-linejoin="round"/>
<ellipse cx="1040.6" cy="461.3" rx="2.5" ry="3.3" fill="#fff" class="l" stroke-width="1.3"/>
<path d="M1069.7 478.1L1072.6 476.4" fill="none" stroke="#1a1a1a" stroke-width="7.1" stroke-linecap="butt" stroke-linejoin="round"/>
<path d="M1069.7 478.1L1072.6 476.4" fill="none" stroke="#fff" stroke-width="4.5" stroke-linecap="butt" stroke-linejoin="round"/>
<ellipse cx="1069.7" cy="478.1" rx="2.5" ry="3.3" fill="#fff" class="l" stroke-width="1.3"/>
<path d="M1098.8 494.9L1101.7 493.2" fill="none" stroke="#1a1a1a" stroke-width="7.1" stroke-linecap="butt" stroke-linejoin="round"/>
<path d="M1098.8 494.9L1101.7 493.2" fill="none" stroke="#fff" stroke-width="4.5" stroke-linecap="butt" stroke-linejoin="round"/>
<ellipse cx="1098.8" cy="494.9" rx="2.5" ry="3.3" fill="#fff" class="l" stroke-width="1.3"/>
<path d="M801 300V567A8 4.5 0 0 0 817 567V300" fill="#fff" class="l" stroke-width="1.75"/>
<path d="M830.8 261.2L876.6 287.7A7.3 7.3 0 0 1 876.6 300.3L834.8 324.4A9 9 0 0 0 830.3 332.2L830.3 712" fill="none" stroke="#1a1a1a" stroke-width="17.4" stroke-linecap="round" stroke-linejoin="round"/>
<path d="M830.8 261.2L876.6 287.7A7.3 7.3 0 0 1 876.6 300.3L834.8 324.4A9 9 0 0 0 830.3 332.2L830.3 712" fill="none" stroke="#fff" stroke-width="13.8" stroke-linecap="round" stroke-linejoin="round"/>
<path d="M688.1 357.7L1173.1 637.7" fill="none" stroke="#1a1a1a" stroke-width="25.2" stroke-linecap="butt" stroke-linejoin="round"/>
<path d="M686.8 356.9L1173.1 637.7" fill="none" stroke="#fff" stroke-width="21.8" stroke-linecap="butt" stroke-linejoin="round"/>
<path d="M688.1 474.2L1173.1 754.2" fill="none" stroke="#1a1a1a" stroke-width="25.2" stroke-linecap="butt" stroke-linejoin="round"/>
<path d="M686.8 473.4L1173.1 754.2" fill="none" stroke="#fff" stroke-width="21.8" stroke-linecap="butt" stroke-linejoin="round"/>
<path d="M686.1 636.2L822.7 715A11.8 11.8 0 0 0 836.2 713.8L890.8 666.8A11.8 11.8 0 0 1 904.3 665.6L1156.9 811.4" fill="none" stroke="#1a1a1a" stroke-width="25.2" stroke-linecap="butt" stroke-linejoin="round"/>
<path d="M684.8 635.4L822.7 715A11.8 11.8 0 0 0 836.2 713.8L890.8 666.8A11.8 11.8 0 0 1 904.3 665.6L1156.9 811.4" fill="none" stroke="#fff" stroke-width="21.8" stroke-linecap="butt" stroke-linejoin="round"/>
<path d="M656.9 258.1L1140 -20.5L1140 126.2L756 347.5L750 346.5L656.9 292Z" fill="#fff"/>
<path d="M1140 -20.5L656.9 258.1" class="l" fill="none" stroke-width="1.5" />
<path d="M1140 -16.8L660.8 259.6" class="l" fill="none" stroke-width="1.5" />
<path d="M1110.5 33.7L754 236.5" class="l" fill="none" stroke-width="1.75" />
<path d="M657.5 257.6Q656.6 258.5 656.6 261V287.5Q656.6 291 659.5 293L749 345.6" class="l" stroke-width="1.75" fill="none" />
<path d="M660.8 259.5V291.3L708.7 264.8" class="l" stroke-width="1.3" fill="none" />
<path d="M662.5 291.4L752.5 343" class="l" stroke-width="1.3" fill="none" />
<path d="M709.3 236.9L736.2 218.7L753 228.1L753 238.7L756.2 241.9L766.2 248.7L763.4 251.5L763.2 256.5L767 260.6L769.9 263.7L775 267.4L782.4 270.6L790 271.5L800 270L830 255L850 249L856 262L782.4 304.5L709.3 264.3Z" fill="#d6d6d6"/>
<path d="M782.4 304.5L709.3 264.3L709.3 236.9L736.2 218.7L753 228.1L753 238.7L756.2 241.9L766.2 248.7L763.4 251.5L763.2 256.5L767 260.6L769.9 263.7L775 267.4L782.4 270.6L790 271.5L800 270L830 255" class="l" stroke-width="1.75" fill="none" />
<path d="M724.9 245L724.9 251.2L725.9 255L728.1 257.8L793.6 296.8" class="l" stroke-width="1.3" fill="none" />
<path d="M729.9 256.2L794.9 295.6" class="l" stroke-width="1.0" fill="none" />
<path d="M724.9 245L753 228.7L753 238.7L756.2 241.9L729.9 256.2L726.4 253.1L724.9 250Z" fill="#e4e4e4" class="l" stroke-width="1.3"/>
<path d="M709.3 236.9L736.2 218.7L753 228.1L724.9 245Z" fill="#d6d6d6" class="l" stroke-width="1.75"/>
<path d="M718.1 231.9L736.2 221.2L748 227.1L727.4 238.7Z" fill="#e4e4e4" class="l" stroke-width="1.2"/>
<path d="M718.1 231L729.9 224L735.9 226.9L735.9 230.6L724.9 237.2L718.1 234Z" fill="#e4e4e4" class="l" stroke-width="1.2"/>
<path d="M735.9 227.2L724.9 233.7L718.1 231" class="l" stroke-width="1.1" fill="none" />
<path d="M724.9 233.7L724.9 237.2" class="l" fill="none" stroke-width="1.1" />
<path d="M709.9 238.7L724.9 246.8L753 230.2" class="l" stroke-width="1.1" fill="none" />
<path d="M766.2 248.7Q769.5 252 769.2 263" class="l" stroke-width="1.2" fill="none" />
<path d="M790.6 235.6L795 233L803.7 234L803.7 220L842.4 200.6L846.2 203.1L846.2 206.9L871.2 196.2L877 194.2L882.5 193.7L888 194.3L892.4 195.6L923 213.1L923 222.8L856 262L849 249L848.7 244.3L798 265L793 265.5L790.6 262.4Z" fill="#d6d6d6"/>
<path d="M848.7 244.3L798 265L793 265.5L790.6 262.4L790.6 235.6L795 233L803.7 234L803.7 220L842.4 200.6L846.2 203.1L846.2 206.9L871.2 196.2L877 194.2L882.5 193.7L888 194.3L892.4 195.6L923 213.1L923 222.8" class="l" stroke-width="1.75" fill="none" />
<path d="M875.6 202.9L875.6 220.6L891.2 214Q898.9 210.6 896.8 205.6Q889.9 196.9 875.6 202.9Z" fill="#e4e4e4" class="l" stroke-width="1.3"/>
<path d="M847.5 215.5L875.6 202.9" class="l" fill="none" stroke-width="1.3" />
<path d="M875.6 220.6L866.5 225.2" class="l" fill="none" stroke-width="1.3" />
<path d="M847.5 212.7L873.7 199.7Q892.4 193.1 900.6 206.9" fill="none" class="l" stroke-width="1.1"/>
<path d="M923 213.5L923 221.2L903.1 233.1L903.1 224Z" fill="#e4e4e4" class="l" stroke-width="1.3"/>
<path d="M888.7 231.8L903.1 224L903.1 233.1L888.7 241.2Z" fill="#e4e4e4" class="l" stroke-width="1.3"/>
<path d="M923 213.5L903.7 223.7L899.9 222.8Q896.2 220.6 891.2 221.8Q881.8 225 885 230L888.7 231.8L888.7 241.2" fill="none" class="l" stroke-width="1.3"/>
<ellipse cx="904.6" cy="215.2" rx="5.4" ry="3.8" fill="#e4e4e4" class="l" stroke-width="1.3"/>
<ellipse cx="905" cy="215.9" rx="3.6" ry="2.4" fill="#ececec" class="l" stroke-width="1.0"/>
<path d="M873.1 244.9L886.8 238.1L886.8 242.4L873.1 252.2Z" fill="#e4e4e4" class="l" stroke-width="1.3"/>
<path d="M862.7 239.7L873.1 244.9L873.1 252.2L869.7 253.7L861.2 243.1Z" fill="#d6d6d6" class="l" stroke-width="1.3"/>
<path d="M862.7 239.7Q860.6 235 866.8 229.7L871.8 228.1L881.8 230Q886.8 232.5 886.8 238.1L873.1 244.9Z" fill="#d6d6d6" class="l" stroke-width="1.3"/>
<ellipse cx="874.3" cy="232.7" rx="5.4" ry="3.8" fill="#e4e4e4" class="l" stroke-width="1.3"/>
<ellipse cx="874.7" cy="233.4" rx="3.6" ry="2.4" fill="#ececec" class="l" stroke-width="1.0"/>
<path d="M846.9 239.9L854.4 236.8L858.5 238.7L850 242.2Z" fill="#e4e4e4" class="l" stroke-width="1.2"/>
<path d="M858.5 238.7Q861.2 233.7 862.7 231.2L862.7 239.7L861.2 243.1Q858.1 249.9 853.7 252.2L851.9 248.7Q856.9 244.9 858.5 238.7Z" fill="#e4e4e4" class="l" stroke-width="1.2"/>
<path d="M790.6 235.6L795 233.1L802.5 233.3L805 237.5L805 248.1L808.7 248.9L846.2 231.5L849.9 245L798.1 265.2L793.7 264.9L790.6 262.4Z" fill="#d6d6d6" class="l" stroke-width="1.3"/>
<path d="M793.1 238.1L793.1 263.7" class="l" stroke-width="1.0" fill="none" />
<path d="M791.2 236.5L795 239.3L801.2 239.3L805 237.5" class="l" stroke-width="1.1" fill="none" />
<path d="M793.7 264.3L795.6 252.4L798.1 249.9L805 248.7" class="l" stroke-width="1.1" fill="none" />
<path d="M803.7 220L842.4 200.6L846.2 203.1L846.2 231.2L808.7 248.7L805 247.4Z" fill="#c4c4c4" class="l" stroke-width="1.3"/>
<path d="M808.7 221.5L845.2 204L845.5 231.2L808.9 248.2Z" fill="#d6d6d6" class="l" stroke-width="1.1"/>
<path d="M1140 97.7L761 317Q754.5 321 753.6 327V343Q753.6 348.5 758 346.4L1140 126.2Z" fill="#fff" class="l" stroke-width="1.5"/>
<path d="M1140 101.6L763 319.7" class="l" fill="none" stroke-width="1.5" />
<path d="M1140 126.8L877 278.8" class="l" fill="none" stroke-width="2.8" />
<path d="M809.2 304.4L818.2 299.2" stroke="#1a1a1a" stroke-width="8.8" stroke-linecap="round" fill="none"/>
<path d="M809.2 304.4L818.2 299.2" stroke="#ececec" stroke-width="5.2" stroke-linecap="round" fill="none"/>
<path d="M911.7 245.7L920.7 240.5" stroke="#1a1a1a" stroke-width="8.8" stroke-linecap="round" fill="none"/>
<path d="M911.7 245.7L920.7 240.5" stroke="#ececec" stroke-width="5.2" stroke-linecap="round" fill="none"/>
<path d="M830.8 261.2L876.6 287.7A7.3 7.3 0 0 1 876.6 300.3L834.8 324.4A9 9 0 0 0 830.3 332.2L830.3 346" fill="none" stroke="#1a1a1a" stroke-width="17.4" stroke-linecap="butt" stroke-linejoin="round"/>
<circle cx="830.8" cy="261.2" r="8.7" fill="#1a1a1a"/>
<path d="M830.8 261.2L876.6 287.7A7.3 7.3 0 0 1 876.6 300.3L834.8 324.4A9 9 0 0 0 830.3 332.2L830.3 348" fill="none" stroke="#fff" stroke-width="13.8" stroke-linecap="butt" stroke-linejoin="round"/>
<circle cx="830.8" cy="261.2" r="6.9" fill="#fff"/>
</g>
<path d="M696 160.5L798.5 229.5" class="l" fill="none" stroke-width="1.5" />
<path d="M1139 42L1062 98" class="l" fill="none" stroke-width="1.5" />
<path d="M499 42L503.5 132" class="l" fill="none" stroke-width="1.5" />
<g style="filter:grayscale(1)">
<text x="460.5" y="32.8">滑道</text>
<text x="304.5" y="696.6">卡扣</text>
<text x="660.5" y="145.8">卡扣</text>
<text x="1108.5" y="32.8">滑道</text>
</g>
</svg>
</body></html>
